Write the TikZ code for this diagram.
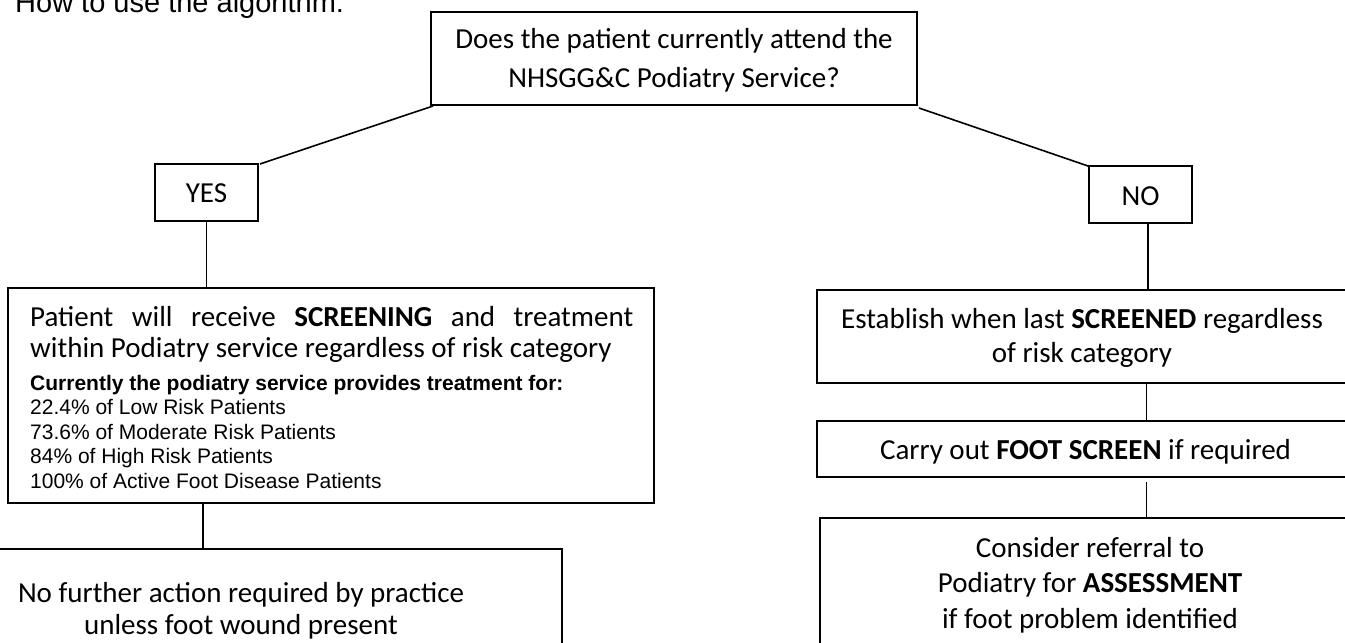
\documentclass[tikz,border=0pt]{standalone}
\usepackage{fontspec}
\newfontfamily\calibri{Carlito}
\newfontfamily\arial{Liberation Sans}
\tikzset{
  box/.style={draw, line width=1.9pt, rectangle, inner sep=0pt, outer sep=0pt},
  link/.style={draw, line width=1.6pt},
  cal/.style={font=\calibri\fontsize{29}{33}\selectfont, inner sep=0pt},
  ari/.style={font=\arial\fontsize{21}{24.5}\selectfont, inner sep=0pt},
  ttl/.style={font=\arial\fontsize{29}{33}\selectfont, inner sep=0pt},
}
\begin{document}
\begin{tikzpicture}[x=1pt,y=-1pt]
\useasboundingbox (0,0) rectangle (1345,643);
% title
\node[ttl, anchor=base west] (title) at (15,12) {How to use the algorithm:};
% boxes
\node[box, minimum width=486pt, minimum height=93pt] (top) at (674,58.5) {};
\node[box, minimum width=103pt, minimum height=57pt] (yes) at (206.5,192.5) {};
\node[box, minimum width=103pt, minimum height=57pt] (no) at (1140.5,194.5) {};
\node[box, minimum width=646pt, minimum height=215pt] (pat) at (331,395.5) {};
\node[box, minimum width=642pt, minimum height=151pt] (nfa) at (241,624.5) {};
\node[box, minimum width=530pt, minimum height=93pt] (est) at (1082,336.5) {};
\node[box, minimum width=535pt, minimum height=56pt] (car) at (1084.5,449) {};
\node[box, minimum width=540pt, minimum height=182pt] (con) at (1090,609) {};
% texts
\node[cal, anchor=base] (top1) at (674,48) {Does the patient currently attend the};
\node[cal, anchor=base] (top2) at (674,87) {NHSGG\&C Podiatry Service?};
\node[cal, anchor=base] (yest) at (206.5,202) {YES};
\node[cal, anchor=base] (not) at (1140.5,205) {NO};
\node[cal, anchor=base west] (pat1) at (30,326) {\makebox[603pt][s]{Patient will receive \textbf{SCREENING} and treatment}};
\node[cal, anchor=base west] (pat2) at (30,357) {within Podiatry service regardless of risk category};
\node[ari, anchor=base west] (pat3) at (30,390) {\bfseries Currently the podiatry service provides treatment for:};
\node[ari, anchor=base west] (pat4) at (30,414.5) {22.4\% of Low Risk Patients};
\node[ari, anchor=base west] (pat5) at (30,439) {73.6\% of Moderate Risk Patients};
\node[ari, anchor=base west] (pat6) at (30,463.5) {84\% of High Risk Patients};
\node[ari, anchor=base west] (pat7) at (30,488) {100\% of Active Foot Disease Patients};
\node[cal, anchor=base] (nfa1) at (241,602) {No further action required by practice};
\node[cal, anchor=base] (nfa2) at (241,634) {unless foot wound present};
\node[cal, anchor=base] (est1) at (1082,328) {Establish when last \textbf{SCREENED} regardless};
\node[cal, anchor=base] (est2) at (1082,362) {of risk category};
\node[cal, anchor=base] (car1) at (1085.5,459) {Carry out \textbf{FOOT SCREEN} if required};
\node[cal, anchor=base] (con1) at (1090,557) {Consider referral to};
\node[cal, anchor=base] (con2) at (1090,592) {Podiatry for \textbf{ASSESSMENT}};
\node[cal, anchor=base] (con3) at (1090,628) {if foot problem identified};
% connectors
\coordinate (noout) at ([xshift=7.5pt]no.south);
\coordinate (estup) at (noout |- est.north);
\coordinate (estout) at ([xshift=-1.5pt]noout |- est.south);
\coordinate (carin) at (estout |- car.north);
\coordinate (carout) at ([yshift=-5pt]estout |- car.south);
\coordinate (conin) at (estout |- con.north);
\coordinate (patin) at (yes.south |- pat.north);
\coordinate (patout) at ([xshift=-128pt]pat.south);
\coordinate (nfain) at (patout |- nfa.north);
\draw[link] ([xshift=2pt,yshift=-1pt]top.south west) -- ([xshift=2pt]yes.north east);
\draw[link] ([xshift=2pt,yshift=-3pt]top.south east) -- ([xshift=-1pt]no.north west);
\draw[link] (yes.south) -- (patin);
\draw[link] (noout) -- (estup);
\draw[link] (estout) -- (carin);
\draw[link] (carout) -- (conin);
\draw[link] (patout) -- (nfain);
\end{tikzpicture}
\end{document}
